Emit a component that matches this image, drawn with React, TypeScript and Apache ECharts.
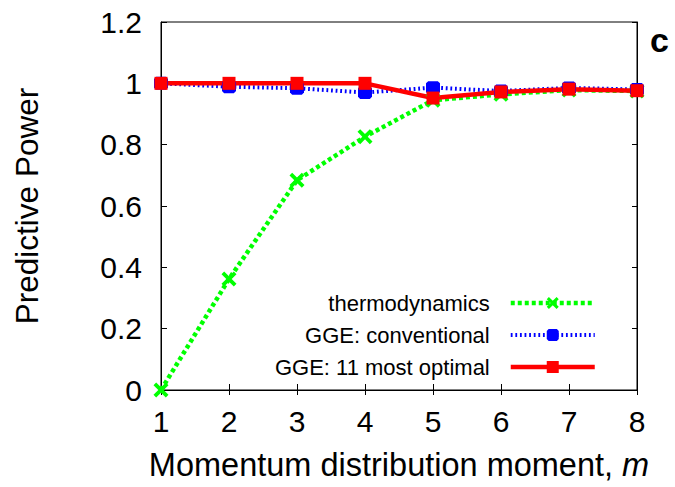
import React, { useEffect, useRef } from "react";
import * as echarts from "echarts";

const moments = [1, 2, 3, 4, 5, 6, 7, 8];
const thermodynamics = [0.0, 0.362, 0.684, 0.826, 0.945, 0.964, 0.978, 0.975];
const ggeConventional = [1.0, 0.989, 0.984, 0.970, 0.986, 0.975, 0.985, 0.980];
const ggeOptimal = [1.0, 1.0, 1.0, 1.0, 0.952, 0.972, 0.981, 0.976];
const seriesNames = ["thermodynamics", "GGE: conventional", "GGE: 11 most optimal"];
const yTicks = [0, 0.2, 0.4, 0.6, 0.8, 1.0, 1.2];

const FONT = "Liberation Sans, Arial, Helvetica, sans-serif";

const pairs = (ys: number[]) => moments.map((m, i) => [m, ys[i]]);

export default function App() {
  const ref = useRef<HTMLDivElement>(null);
  useEffect(() => {
    if (!ref.current) return;
    const chart = echarts.init(ref.current, undefined, { renderer: "svg" });
    const axisCommon = {
      axisLine: { show: true, lineStyle: { color: "#000", width: 1 } },
      splitLine: { show: false },
    };
    chart.setOption({
      animation: false,
      backgroundColor: "#fff",
      grid: {
        left: 161,
        right: 38,
        top: 22,
        bottom: 97,
        show: true,
        borderColor: "#000",
        borderWidth: 1,
      },
      xAxis: [
        {
          type: "value",
          min: 1,
          max: 8,
          interval: 1,
          position: "bottom",
          ...axisCommon,
          axisTick: { show: true, inside: true, length: 6, lineStyle: { color: "#000" } },
          axisLabel: { color: "#000", fontSize: 30, fontFamily: FONT, margin: 16 },
          name: "Momentum distribution moment, {i|m}",
          nameLocation: "middle",
          nameGap: 58,
          nameTextStyle: {
            color: "#000",
            fontSize: 32.5,
            fontFamily: FONT,
            rich: { i: { fontStyle: "italic", fontSize: 32.5, fontFamily: FONT, color: "#000" } },
          },
        },
        {
          type: "value",
          min: 1,
          max: 8,
          interval: 1,
          position: "top",
          ...axisCommon,
          axisTick: { show: true, inside: true, length: 5, lineStyle: { color: "#000" } },
          axisLabel: { show: false },
        },
      ],
      yAxis: [
        {
          type: "value",
          min: yTicks[0],
          max: yTicks[yTicks.length - 1],
          interval: 0.2,
          position: "left",
          ...axisCommon,
          axisTick: { show: true, inside: true, length: 6, lineStyle: { color: "#000" } },
          axisLabel: {
            color: "#000",
            fontSize: 30,
            fontFamily: FONT,
            margin: 19,
            formatter: (v: number) => String(Math.round(v * 10) / 10),
          },
          name: "Predictive Power",
          nameLocation: "middle",
          nameGap: 118,
          nameTextStyle: { color: "#000", fontSize: 31.5, fontFamily: FONT },
        },
        {
          type: "value",
          min: yTicks[0],
          max: yTicks[yTicks.length - 1],
          interval: 0.2,
          position: "right",
          ...axisCommon,
          axisTick: { show: true, inside: true, length: 5, lineStyle: { color: "#000" } },
          axisLabel: { show: false },
        },
      ],
      legend: {
        orient: "vertical",
        align: "right",
        right: 73,
        top: 287,
        itemWidth: 84,
        itemHeight: 15,
        itemGap: 10,
        data: seriesNames,
        lineStyle: { width: "inherit" },
        textStyle: { color: "#000", fontSize: 22, fontFamily: FONT, padding: [0, 16, 0, 0] },
      },
      graphic: [
        {
          type: "text",
          left: 650,
          top: 23,
          style: { text: "c", font: `bold 34px ${FONT}`, fill: "#000" },
        },
      ],
      series: [
        {
          name: seriesNames[0],
          type: "line",
          clip: false,
          data: pairs(thermodynamics),
          symbol:
            "path://M0,2.5 L2.5,0 L7,4.5 L11.5,0 L14,2.5 L9.5,7 L14,11.5 L11.5,14 L7,9.5 L2.5,14 L0,11.5 L4.5,7 Z",
          symbolSize: 15,
          itemStyle: { color: "#00ff00" },
          lineStyle: { color: "#00ff00", width: 4.5, type: [4, 3] },
        },
        {
          name: seriesNames[1],
          type: "line",
          clip: false,
          data: pairs(ggeConventional),
          symbol: "path://M2,0 L11,0 L13,2 L13,10 L11,12 L2,12 L0,10 L0,2 Z",
          symbolSize: [14, 13],
          itemStyle: { color: "#0000ff" },
          lineStyle: { color: "#0000ff", width: 4, type: [1.8, 2.8] },
        },
        {
          name: seriesNames[2],
          type: "line",
          clip: false,
          data: pairs(ggeOptimal),
          symbol: "rect",
          symbolSize: 13,
          itemStyle: { color: "#ff0000" },
          lineStyle: { color: "#ff0000", width: 4.5, type: "solid" },
        },
      ],
    });
    return () => chart.dispose();
  }, []);
  return <div ref={ref} style={{ width: 675, height: 487, position: "absolute", left: 0, top: 0 }} />;
}
